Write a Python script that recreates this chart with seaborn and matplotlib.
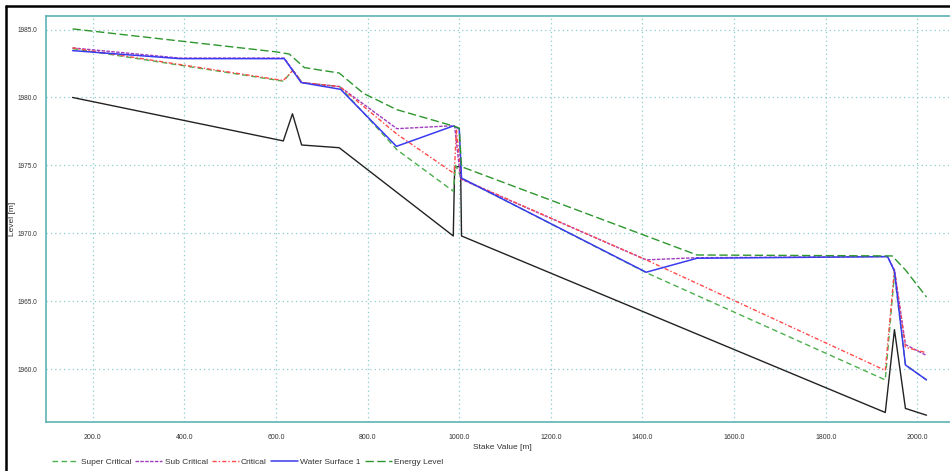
import matplotlib
matplotlib.use('Agg')
import matplotlib.pyplot as plt
from matplotlib.lines import Line2D
from matplotlib.ticker import MultipleLocator, FormatStrFormatter
import seaborn as sns

# stations [m] and levels [m]
bed_x = [156, 616, 636, 656, 738, 987, 990, 1003, 1005, 1930, 1950, 1974, 2020]
bed_y = [1980.0, 1976.8, 1978.8, 1976.5, 1976.3, 1969.8, 1974.9, 1974.9, 1969.8,
         1956.8, 1962.9, 1957.1, 1956.6]

super_x = [156, 616, 637, 657, 739, 864, 987, 992, 1005, 1408, 1930, 1950, 1974, 2020]
super_y = [1983.6, 1981.2, 1982.0, 1981.1, 1980.8, 1976.15, 1973.1, 1975.0, 1974.06,
           1967.1, 1959.2, 1967.0, 1960.3, 1959.2]

sub_x = [156, 390, 618, 656, 739, 864, 975, 990, 1003, 1408, 1519, 1935, 1950, 1974, 2020]
sub_y = [1983.65, 1982.9, 1982.9, 1981.1, 1980.8, 1977.7, 1977.9, 1977.9, 1974.0,
         1968.04, 1968.2, 1968.28, 1967.3, 1961.8, 1961.0]

crit_x = [156, 616, 637, 657, 739, 864, 989, 994, 1005, 1408, 1930, 1950, 1974, 2020]
crit_y = [1983.65, 1981.25, 1982.0, 1981.1, 1980.8, 1977.3, 1974.4, 1977.6, 1974.0,
          1968.04, 1959.9, 1967.3, 1961.6, 1961.2]

ws_x = [156, 390, 618, 655, 741, 863, 987, 1000, 1005, 1408, 1519, 1935, 1950, 1974, 2020]
ws_y = [1983.45, 1982.86, 1982.86, 1981.1, 1980.6, 1976.4, 1977.9, 1977.7, 1974.06,
        1967.13, 1968.16, 1968.28, 1967.2, 1960.3, 1959.2]

energy_x = [156, 600, 629, 662, 738, 791, 864, 987, 1000, 1005, 1519, 1945, 1974, 2020]
energy_y = [1985.05, 1983.36, 1983.2, 1982.2, 1981.8, 1980.3, 1979.1, 1977.9, 1977.75,
            1974.9, 1968.4, 1968.33, 1967.3, 1965.3]

sns.set_style('white')
plt.rcParams['font.family'] = ['Liberation Sans', 'DejaVu Sans']

teal = '#5fb3b3'
fig = plt.figure(figsize=(9.5, 4.71), dpi=100)
ax_w = 1 - 46 / 950 + 0.01
ax = fig.add_axes([46 / 950, 1 - 422 / 471, ax_w, (422 - 16) / 471])

sns.lineplot(x=bed_x, y=bed_y, ax=ax, color='#222222', lw=1.0,
             estimator=None, sort=False, legend=False)
sns.lineplot(x=super_x, y=super_y, ax=ax, color='#4daf4d', lw=1.0, dashes=(4, 2.5),
             estimator=None, sort=False, label='Super Critical')
sns.lineplot(x=sub_x, y=sub_y, ax=ax, color='#a03cc0', lw=1.0, dashes=(2.5, 1),
             estimator=None, sort=False, label='Sub Critical')
sns.lineplot(x=crit_x, y=crit_y, ax=ax, color='#ff4a4a', lw=1.0, dashes=(3, 1.5, 1, 1.5),
             estimator=None, sort=False, label='Critical')
sns.lineplot(x=ws_x, y=ws_y, ax=ax, color='#3a3af0', lw=1.1,
             estimator=None, sort=False, label='Water Surface 1')
sns.lineplot(x=energy_x, y=energy_y, ax=ax, color='#2e962e', lw=1.0, dashes=(6, 2.5),
             estimator=None, sort=False, label='Energy Level')

ax.set_xlim(98, 2092)
ax.set_ylim(1956.1, 1986.0)
ax.xaxis.set_major_locator(MultipleLocator(200))
ax.xaxis.set_minor_locator(MultipleLocator(20))
ax.yaxis.set_major_locator(MultipleLocator(5))
ax.yaxis.set_minor_locator(MultipleLocator(1))
ax.xaxis.set_major_formatter(FormatStrFormatter('%.1f'))
ax.yaxis.set_major_formatter(FormatStrFormatter('%.1f'))
ax.tick_params(which='both', direction='out', color=teal, labelsize=5, labelcolor='#333333')
ax.tick_params(which='major', length=4, width=1)
ax.tick_params(which='minor', length=2.5, width=0.8)
ax.tick_params(axis='x', pad=4.5)
ax.tick_params(axis='y', pad=2.5, labelsize=4.7)
ax.grid(True, which='major', color='#8ccccc', linestyle=(0, (1, 2.5)), linewidth=0.9)

for side in ['left', 'bottom', 'top']:
    ax.spines[side].set_color(teal)
    ax.spines[side].set_linewidth(1.2)
ax.spines['right'].set_visible(False)

ax.set_xlabel('Stake Value [m]', fontsize=6, color='#333333', labelpad=2.5)
ax.set_ylabel('Level [m]', fontsize=6, color='#333333')
ax.yaxis.set_label_coords(-30 / (ax_w * 950), 0.5)

handles, labels = ax.get_legend_handles_labels()
ax.legend_.remove()
fig.legend(handles, labels, loc='lower left', bbox_to_anchor=(44 / 950, -0.006), ncol=5,
           frameon=False, fontsize=6, handlelength=3.2, handletextpad=0.3,
           columnspacing=0.5, labelcolor='#333333')

# outer screenshot frame
fig.add_artist(Line2D([5.5 / 950, 5.5 / 950], [0, 1 - 5.5 / 471], transform=fig.transFigure,
                      color='black', lw=1.8))
fig.add_artist(Line2D([5.5 / 950, 1], [1 - 5.5 / 471, 1 - 5.5 / 471], transform=fig.transFigure,
                      color='black', lw=1.8))

fig.savefig('out.png', dpi=100)
